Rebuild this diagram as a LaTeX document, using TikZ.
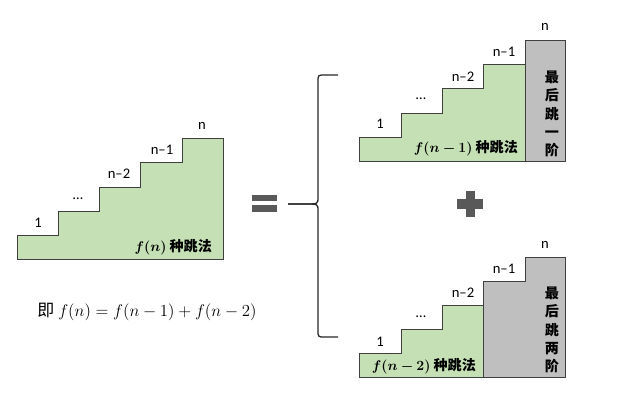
\documentclass[tikz,border=0pt]{standalone}
\usepackage{bm}
\usepackage{fontspec}
\setmainfont{Carlito}
\newfontfamily\cjk{Noto Sans CJK SC}
\definecolor{stepgreen}{HTML}{C5E0B4}
\definecolor{stepgray}{HTML}{BFBFBF}
\definecolor{edgegray}{HTML}{404040}
\definecolor{signgray}{HTML}{595959}
\begin{document}
\begin{tikzpicture} [x = 0.03cm, y = -0.03cm,
	num/.style = {font = \fontsize{12.5}{14}\selectfont},
	ways/.style = {anchor = east, font = \fontsize{12}{14}\selectfont\bfseries},
	last/.style = {align = center, font = \fontsize{12}{15.5}\selectfont\cjk\bfseries},
	green/.style = {fill = stepgreen, draw = edgegray, line width = 0.8pt},
	gray/.style = {fill = stepgray, draw = edgegray, line width = 0.8pt}]
	\useasboundingbox (0,0) rectangle (618,407);
	% left stairs, f(n)
	\draw [green] (17,259) -- (17,235) -- (58,235) -- (58,211) -- (99,211) -- (99,187) -- (140,187) -- (140,162) -- (182,162) -- (182,138) -- (223,138) -- (223,259) -- cycle;
	\node [num] (l1) at (38,223) {1};
	\node [num] (ldots) at (78,199) {\dots};
	\node [num] (ln2) at (119,174) {n–2};
	\node [num] (ln1) at (162,150) {n–1};
	\node [num] (ln) at (202,126) {n};
	\node [ways] (lways) at (216,247) {$\bm{f(n)}$ {\cjk 种跳法}};
	\node [font = \fontsize{14.5}{17}\selectfont] (rule) at (147,312) {{\cjk 即} $f(n) = f(n-1) + f(n-2)$};
	% equals sign
	\fill [signgray] (252,195) rectangle (277,201);
	\fill [signgray] (252,205) rectangle (277,212);
	% brace
	\coordinate (tip) at (288,204);
	\draw [line width = 1.1pt, black!85] (338,75) -- (325,75) .. controls (318,75) .. (318,82) -- (318,197) .. controls (318,204) .. (306,204) -- (tip);
	\draw [line width = 1.1pt, black!85] (338,337) -- (325,337) .. controls (318,337) .. (318,330) -- (318,211) .. controls (318,204) .. (306,204) -- (tip);
	% top right, last jump one step
	\draw [green] (359,161) -- (359,137) -- (401,137) -- (401,113) -- (442,113) -- (442,88) -- (483,88) -- (483,64) -- (525,64) -- (525,161) -- cycle;
	\draw [gray] (525,40) rectangle (565,161);
	\node [num] (a1) at (380,124) {1};
	\node [num] (adots) at (421,99) {\dots};
	\node [num] (an2) at (463,77) {n–2};
	\node [num] (an1) at (504,52) {n–1};
	\node [num] (an) at (545,27) {n};
	\node [ways] (aways) at (522,148) {$\bm{f(n-1)}$ {\cjk 种跳法}};
	\node [last] (alast) at (552,114) {最\\后\\跳\\一\\阶};
	% plus sign
	\fill [signgray] (457,199) rectangle (483,209);
	\fill [signgray] (466,191) rectangle (475,217);
	% bottom right, last jump two steps
	\draw [green] (359,377) -- (359,353) -- (401,353) -- (401,329) -- (442,329) -- (442,305) -- (483,305) -- (483,377) -- cycle;
	\draw [gray] (483,377) -- (483,281) -- (525,281) -- (525,257) -- (565,257) -- (565,377) -- cycle;
	\node [num] (b1) at (380,342) {1};
	\node [num] (bdots) at (421,317) {\dots};
	\node [num] (bn2) at (463,293) {n–2};
	\node [num] (bn1) at (504,269) {n–1};
	\node [num] (bn) at (545,245) {n};
	\node [ways] (bways) at (480,366) {$\bm{f(n-2)}$ {\cjk 种跳法}};
	\node [last] (blast) at (552,330) {最\\后\\跳\\两\\阶};
\end{tikzpicture}
\end{document}
